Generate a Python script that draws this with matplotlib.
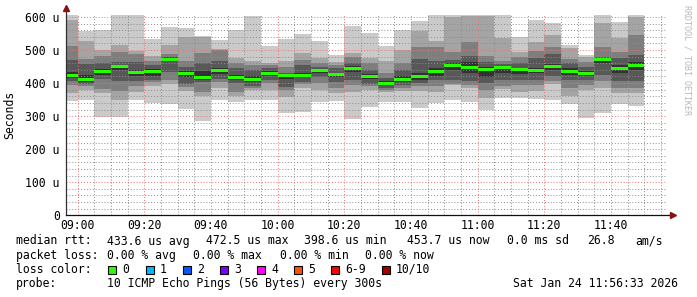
import numpy as np
import matplotlib
matplotlib.use("Agg")
import matplotlib.pyplot as plt
from matplotlib.patches import Rectangle

plt.rcParams.update({
    "font.family": "DejaVu Sans Mono",
    "font.size": 8.3,
})

W, H = 697, 297

# ── data: one 5-minute bin per entry, minutes relative to 09:00 ───────────────
bin_start = np.arange(-5, 170, 5)  # 08:55 ... 11:45 (first bin cut by the axis)

# sorted ping rtts per bin (microseconds), p1 = fastest, p10 = slowest
p1 = [347, 349, 297, 298, 349, 340, 337, 323, 286, 350, 344, 348, 350, 310, 313, 342, 345, 291,
      328, 343, 343, 326, 340, 348, 344, 320, 354, 355, 352, 350, 336, 293, 309, 338, 330]
p2 = [371, 378, 370, 350, 372, 392, 396, 376, 360, 385, 360, 380, 378, 358, 384, 380, 370, 373,
      378, 374, 376, 375, 372, 395, 385, 356, 383, 372, 375, 398, 360, 380, 385, 370, 370]
p3 = [395, 390, 383, 376, 390, 403, 410, 388, 374, 404, 372, 385, 400, 378, 396, 400, 385, 395,
      390, 378, 385, 390, 390, 398, 395, 378, 392, 395, 393, 405, 385, 395, 405, 386, 385]
p4 = [405, 398, 412, 405, 407, 410, 435, 398, 404, 412, 400, 392, 410, 388, 404, 418, 403, 410,
      398, 385, 395, 400, 410, 410, 405, 400, 410, 410, 410, 420, 410, 410, 425, 405, 405]
p5 = [414, 402, 425, 440, 420, 420, 466, 418, 410, 428, 410, 403, 420, 412, 418, 430, 418, 435,
      412, 393, 404, 410, 420, 440, 430, 418, 430, 428, 430, 440, 425, 422, 460, 432, 440]
p6 = [435, 425, 442, 456, 440, 443, 478, 438, 438, 445, 425, 422, 438, 427, 432, 442, 432, 452,
      428, 405, 422, 430, 445, 460, 465, 448, 452, 445, 445, 458, 445, 438, 476, 455, 465]
p7 = [470, 458, 462, 465, 465, 455, 480, 450, 460, 468, 445, 440, 447, 432, 455, 450, 445, 460,
      440, 415, 440, 473, 466, 470, 482, 465, 458, 460, 475, 488, 460, 448, 478, 476, 485]
p8 = [513, 474, 482, 495, 487, 466, 488, 466, 490, 500, 462, 455, 456, 448, 470, 462, 455, 478,
      460, 430, 460, 510, 510, 495, 525, 482, 466, 480, 498, 510, 472, 465, 508, 495, 545]
p9 = [591, 526, 500, 515, 497, 481, 516, 540, 538, 503, 476, 466, 462, 468, 492, 475, 465, 490,
      477, 467, 499, 558, 526, 600, 603, 604, 537, 495, 523, 546, 505, 478, 582, 535, 600]
p10 = [607, 558, 560, 606, 606, 533, 570, 568, 543, 530, 561, 604, 511, 534, 550, 528, 486, 573,
       552, 512, 561, 588, 607, 607, 607, 607, 607, 540, 591, 581, 514, 485, 607, 584, 607]
median = [424, 411, 434, 449, 432, 436, 472.5, 428, 418, 438, 417, 410, 428, 422, 424, 437, 425,
          445, 420, 398.6, 410, 419, 435, 452, 447, 440, 448, 440, 438, 451, 435, 430, 471, 443,
          453.7]

pings = [p1, p2, p3, p4, p5, p6, p7, p8, p9, p10]

time_ticks = [0, 20, 40, 60, 80, 100, 120, 140, 160]
time_labels = ["09:00", "09:20", "09:40", "10:00", "10:20", "10:40", "11:00", "11:20", "11:40"]
rtt_ticks = [0, 100, 200, 300, 400, 500, 600]
rtt_labels = ["0", "100 u", "200 u", "300 u", "400 u", "500 u", "600 u"]

loss_names = ["0", "1", "2", "3", "4", "5", "6-9", "10/10"]
loss_colors = ["#26ff00", "#00b8ff", "#0059ff", "#7e00ff", "#ff00ff", "#ff5500", "#ff0000", "#a10000"]

smoke_grays = ["#cacaca", "#a4a4a4", "#7e7e7e", "#585858", "#323232"]

# ── figure ────────────────────────────────────────────────────────────────────
fig = plt.figure(figsize=(W / 100, H / 100), dpi=100)
fig.patch.set_facecolor("white")
ax = fig.add_axes([66 / W, (H - 215.3) / H, 600 / W, 200.3 / H])

# smoke: outer pair of pings lightest, inner pair darkest
for i, gray in enumerate(smoke_grays):
    lo = np.array(pings[i], dtype=float)
    hi = np.array(pings[9 - i], dtype=float)
    ax.bar(bin_start, hi - lo, bottom=lo, width=5, align="edge",
           color=gray, linewidth=0, zorder=1)

# median bar in loss colour
med = np.array(median)
ax.bar(bin_start, 9, bottom=med - 4.5, width=5, align="edge",
       color=loss_colors[0], linewidth=0, zorder=4)

ax.set_xlim(-3.45, 176.55)
ax.set_ylim(0, 606)

ax.set_xticks(time_ticks)
ax.set_xticklabels(time_labels)
ax.set_xticks(np.arange(0, 180, 5), minor=True)
ax.set_yticks(rtt_ticks)
ax.set_yticklabels(rtt_labels)
ax.set_yticks(np.arange(0, 606, 20), minor=True)
ax.tick_params(which="both", length=0)
ax.tick_params(axis="y", pad=4.5)
ax.tick_params(axis="x", pad=2.5)

ax.set_axisbelow(False)
ax.grid(which="minor", color=(0.55, 0.55, 0.55, 0.45), linestyle=(0, (1, 2)), linewidth=0.7)
ax.grid(which="major", color=(0.93, 0.45, 0.45, 0.6), linestyle=(0, (1, 2)), linewidth=0.7)

for s in ax.spines.values():
    s.set_visible(False)

# axes with arrow heads
ax.plot([0, 0], [0, 1.03], transform=ax.transAxes, color="#303030", lw=0.9,
        clip_on=False, zorder=5)
ax.plot([0, 1.01], [0, 0], transform=ax.transAxes, color="#101010", lw=0.9,
        clip_on=False, zorder=5)
ax.plot([0], [1.035], transform=ax.transAxes, marker="^", ms=4, color="#8b1010",
        clip_on=False, zorder=6)
ax.plot([1.012], [0], transform=ax.transAxes, marker=">", ms=4, color="#8b1010",
        clip_on=False, zorder=6)


def ftext(x, y, s, **kw):
    fig.text(x / W, 1 - y / H, s, va="center", ha=kw.pop("ha", "left"), **kw)


ftext(10, 115, "Seconds", rotation=90, ha="center")
ftext(687, 60, "RRDTOOL / TOBI OETIKER", rotation=270, ha="center",
      color="#b8b8b8", fontsize=6)

# legend block
row = [241, 255.5, 269.5, 283.5]
ftext(16, row[0], "median rtt:")
for x, s in [(107, "433.6 us avg"), (206, "472.5 us max"), (304, "398.6 us min"),
             (407, "453.7 us now"), (507, "0.0 ms sd"), (587, "26.8"), (635, "am/s")]:
    ftext(x, row[0], s)

ftext(16, row[1], "packet loss:")
for x, s in [(107, "0.00 % avg"), (193, "0.00 % max"), (280, "0.00 % min"), (365, "0.00 % now")]:
    ftext(x, row[1], s)

ftext(16, row[2], "loss color:")
box_x = [108, 146, 183, 220, 257, 294, 331, 382]
for bx, name, c in zip(box_x, loss_names, loss_colors):
    fig.add_artist(Rectangle((bx / W, 1 - (row[2] + 4) / H), 8 / W, 8 / H,
                             transform=fig.transFigure, facecolor=c,
                             edgecolor="black", linewidth=0.8))
    ftext(bx + 14, row[2], name)

ftext(16, row[3], "probe:")
ftext(107, row[3], "10 ICMP Echo Pings (56 Bytes) every 300s")
ftext(513, row[3], "Sat Jan 24 11:56:33 2026")

fig.savefig("out.png", dpi=100)
